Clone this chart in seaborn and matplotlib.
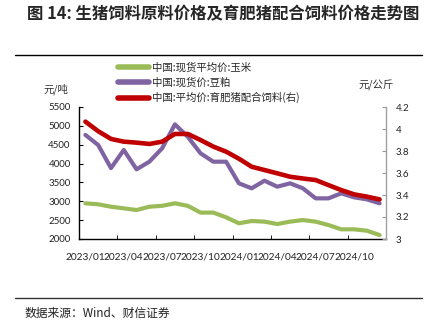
import matplotlib
matplotlib.use("Agg")
import matplotlib.pyplot as plt
from matplotlib.lines import Line2D
from matplotlib.ticker import FixedLocator, FuncFormatter
import seaborn as sns
import pandas as pd

months = ["2023/01", "2023/02", "2023/03", "2023/04", "2023/05", "2023/06",
          "2023/07", "2023/08", "2023/09", "2023/10", "2023/11", "2023/12",
          "2024/01", "2024/02", "2024/03", "2024/04", "2024/05", "2024/06",
          "2024/07", "2024/08", "2024/09", "2024/10", "2024/11", "2024/12"]
corn = [2946, 2920, 2856, 2813, 2768, 2856, 2880, 2946, 2880, 2700, 2700, 2575,
        2416, 2477, 2460, 2397, 2460, 2503, 2460, 2370, 2257, 2257, 2220, 2105]
soymeal = [4760, 4492, 3880, 4360, 3848, 4050, 4405, 5040, 4712, 4272, 4050, 4050,
           3476, 3344, 3546, 3387, 3476, 3344, 3078, 3078, 3211, 3105, 3052, 2946]
feed = [4.067, 3.98, 3.91, 3.885, 3.876, 3.864, 3.885, 3.955, 3.955, 3.90, 3.84, 3.794,
        3.73, 3.657, 3.627, 3.597, 3.566, 3.55, 3.536, 3.49, 3.445, 3.406, 3.385, 3.36]
tick_labels = ["2023/01", "2023/04", "2023/07", "2023/10", "2024/01", "2024/04", "2024/07", "2024/10"]
names = ["中国:现货平均价:玉米", "中国:现货价:豆粕", "中国:平均价:育肥猪配合饲料(右)"]

df = pd.DataFrame({"i": range(len(months)), "month": months,
                   "corn": corn, "soymeal": soymeal, "feed": feed})

sns.set_style("ticks")
plt.rcParams["font.family"] = ["Noto Sans CJK SC", "DejaVu Sans"]

GREEN, PURPLE, RED = "#9BBB59", "#8064A2", "#C00000"

fig = plt.figure(figsize=(4.34, 3.32), dpi=100)
ax = fig.add_axes([79/434, 1-239/332, (386-79)/434, (239-107)/332])
ax2 = ax.twinx()

sns.lineplot(data=df, x="i", y="corn", ax=ax, color=GREEN, lw=3, legend=False)
sns.lineplot(data=df, x="i", y="soymeal", ax=ax, color=PURPLE, lw=3, legend=False)
sns.lineplot(data=df, x="i", y="feed", ax=ax2, color=RED, lw=3.3, legend=False)

ax.set_xlim(-0.5, 23.5)
ax.set_ylim(2000, 5500)
ax2.set_ylim(3, 4.2)
ax.set_yticks(range(2000, 5501, 500))
ax2.set_yticks([3, 3.2, 3.4, 3.6, 3.8, 4.0, 4.2])
ax2.yaxis.set_major_formatter(FuncFormatter(lambda v, p: f"{v:g}"))
ax.set_xticks(list(range(0, 24, 3)))
ax.set_xticklabels(tick_labels)
ax.xaxis.set_minor_locator(FixedLocator([-0.5 + 3*k for k in range(9)]))
ax.tick_params(axis="x", which="major", length=0, pad=10)
ax.tick_params(axis="x", which="minor", length=3, direction="in", color="black")
ax.tick_params(axis="y", length=3, direction="in", pad=6, color="black")
ax2.tick_params(axis="y", length=3, direction="in", pad=7, color="#999999")
ax.set_xlabel(""); ax.set_ylabel(""); ax2.set_ylabel("")
for a in (ax, ax2):
    for lab in a.get_yticklabels():
        lab.set_fontfamily("Lato")
        lab.set_fontsize(7)
        lab.set_color("#222222")
for lab in ax.get_xticklabels():
    lab.set_fontfamily("Lato")
    lab.set_fontsize(7.3)
    lab.set_color("#222222")

for s in ["top"]:
    ax.spines[s].set_visible(False)
    ax2.spines[s].set_visible(False)
ax.spines["right"].set_visible(False)
ax2.spines["left"].set_visible(False)
ax2.spines["bottom"].set_visible(False)
ax.spines["left"].set_color("black")
ax.spines["bottom"].set_color("black")
ax2.spines["right"].set_color("#A0A0A0")
for s in ax.spines.values():
    s.set_linewidth(1)
ax2.spines["right"].set_linewidth(1)

fig.text(68/434, 1-89/332, "元/吨", fontsize=7.5, ha="right", va="center", color="#333333")
fig.text(376/434, 1-85/332, "元/公斤", fontsize=7.5, ha="center", va="center", color="#333333")

handles = [Line2D([], [], color=GREEN, lw=4), Line2D([], [], color=PURPLE, lw=4),
           Line2D([], [], color=RED, lw=4)]
fig.legend(handles, names, loc="upper left", bbox_to_anchor=(118/434, 1-62/332),
           frameon=False, fontsize=7.5, handlelength=3.0, handletextpad=0.3,
           labelspacing=0.45, borderpad=0, borderaxespad=0)

fig.text(27/434, 1-14/332, "图 14: 生猪饲料原料价格及育肥猪配合饲料价格走势图",
         fontsize=11.8, fontweight="bold", ha="left", va="center")
fig.add_artist(Line2D([15/434, 422/434], [1-55/332, 1-55/332], color="black", lw=1))
fig.add_artist(Line2D([15/434, 422/434], [1-298/332, 1-298/332], color="#333333", lw=1))
fig.text(25/434, 1-313/332, "数据来源：Wind、财信证券", fontsize=8.5, style="italic",
         ha="left", va="center", color="#222222")

fig.savefig("out.png", dpi=100)
